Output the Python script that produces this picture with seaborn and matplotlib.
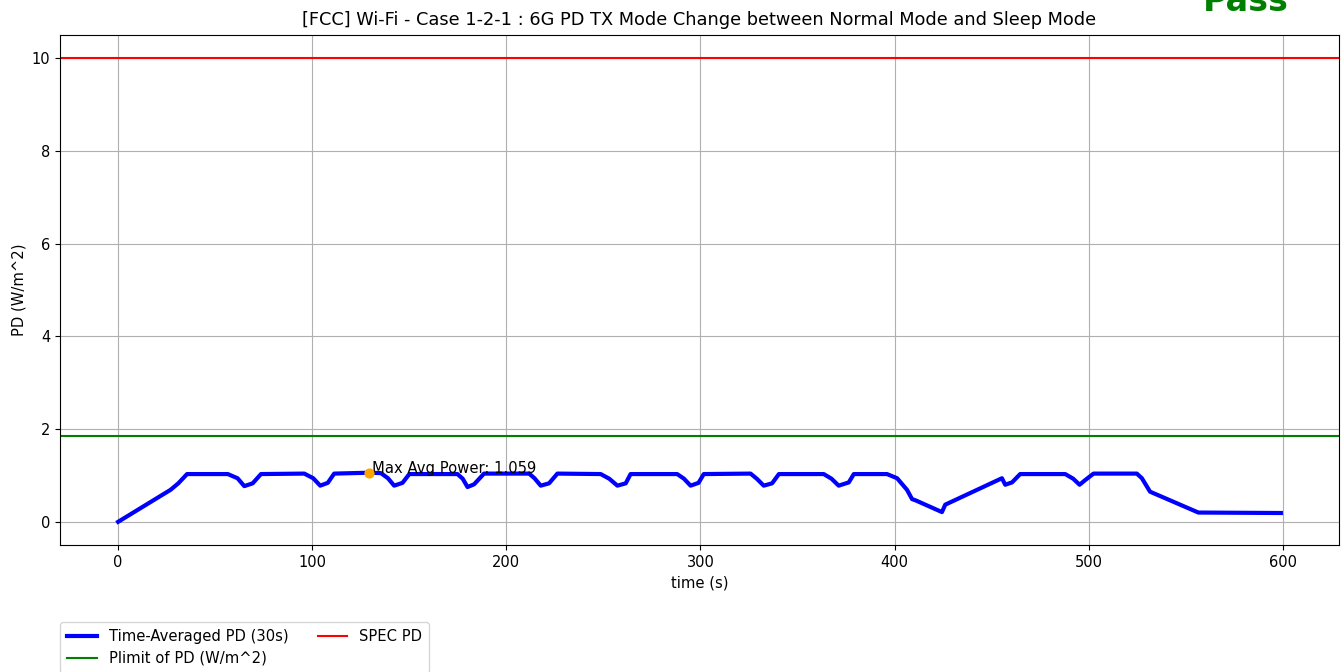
import numpy as np
import pandas as pd
import matplotlib
matplotlib.use('Agg')
import matplotlib.pyplot as plt
import seaborn as sns

# time-averaged PD trace (breakpoints)
time_s = [0, 27, 31, 35.5, 56.5, 61.5, 65, 69.3, 73.6, 95.9, 100.5, 104.1, 108, 111.3,
          129.3, 135.4, 139, 142.2, 146.5, 150, 174.8, 177.5, 180, 183.4, 188.5,
          211.7, 214.5, 217.7, 222, 226.3, 248.6, 253, 257.2, 261.5, 264,
          288, 291.5, 294.9, 299, 301.7, 325.8, 329, 332.6, 336.9, 340.4,
          363.5, 367.5, 371.2, 376.4, 379, 396.1, 401.3, 406.4, 409, 411,
          424.4, 426.1, 455.3, 457, 460.5, 464.7, 487.9, 492, 495.3, 498.2, 502.5,
          524.8, 527.4, 531.6, 556.5, 599]
pd_avg = [0.0, 0.69, 0.83, 1.03, 1.03, 0.94, 0.77, 0.83, 1.03, 1.04, 0.94, 0.78, 0.84, 1.04,
          1.059, 1.05, 0.94, 0.78, 0.84, 1.03, 1.03, 0.93, 0.75, 0.81, 1.04,
          1.04, 0.94, 0.78, 0.83, 1.04, 1.03, 0.93, 0.78, 0.83, 1.03,
          1.03, 0.93, 0.78, 0.84, 1.03, 1.04, 0.93, 0.78, 0.83, 1.03,
          1.03, 0.93, 0.78, 0.85, 1.03, 1.03, 0.94, 0.69, 0.49, 0.46,
          0.21, 0.37, 0.94, 0.80, 0.85, 1.03, 1.03, 0.93, 0.80, 0.90, 1.04,
          1.04, 0.94, 0.65, 0.20, 0.19]

plimit = 1.85
spec_pd = 10

df = pd.DataFrame({'time': time_s, 'pd': pd_avg})

fig, ax = plt.subplots(figsize=(13.42, 6.72), dpi=100)
fig.subplots_adjust(left=60/1342, right=1339/1342, top=1-35/672, bottom=1-545/672)

sns.lineplot(data=df, x='time', y='pd', color='blue', linewidth=3,
             label='Time-Averaged PD (30s)', ax=ax)
ax.axhline(plimit, color='green', linewidth=1.5, label='Plimit of PD (W/m^2)')
ax.axhline(spec_pd, color='red', linewidth=1.5, label='SPEC PD')

# mark the max
i_max = int(np.argmax(pd_avg))
ax.scatter([time_s[i_max]], [pd_avg[i_max]], color='orange', s=40, zorder=5)
ax.text(time_s[i_max] + 1.5, pd_avg[i_max], f'Max Avg Power: {pd_avg[i_max]:.3f}', fontsize=10.6)

ax.set_title('[FCC] Wi-Fi - Case 1-2-1 : 6G PD TX Mode Change between Normal Mode and Sleep Mode',
             fontsize=12.8, pad=7.5)
ax.set_xlabel('time (s)', fontsize=10.6)
ax.set_ylabel('PD (W/m^2)', fontsize=10.6)
ax.tick_params(labelsize=10.5)
ax.grid(True)

ax.legend(loc='upper left', bbox_to_anchor=(0, -0.151), ncol=2, borderaxespad=0,
          fontsize=10.6, labelspacing=0.45, borderpad=0.5)

fig.text(0.9284, 0.984, 'Pass', color='green', fontsize=24, fontweight='bold',
         ha='center', va='baseline')

plt.savefig('out.png')
print("Graph saved as out.png")
